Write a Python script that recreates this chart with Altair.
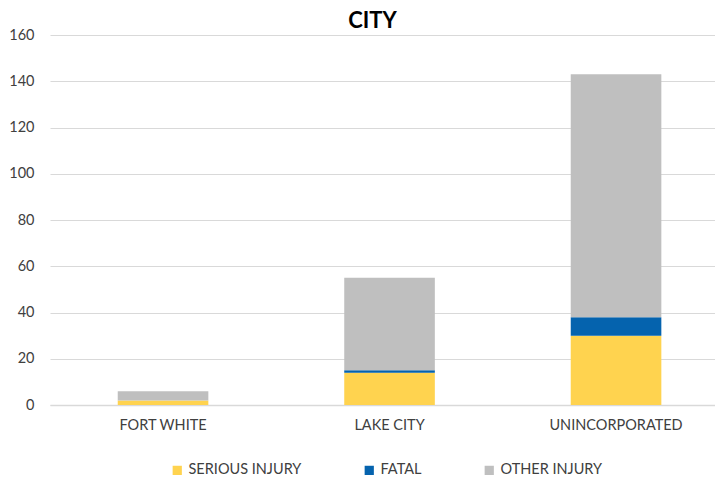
import altair as alt
import pandas as pd

cities = ["FORT WHITE", "LAKE CITY", "UNINCORPORATED"]
serious = [2, 14, 30]
fatal = [0, 1, 8]
other = [4, 40, 105]
series = ["SERIOUS INJURY", "FATAL", "OTHER INJURY"]
colors = ["#FFD34F", "#0563AE", "#BFBFBF"]

rows = []
for i, c in enumerate(cities):
    for j, (s, vals) in enumerate(zip(series, [serious, fatal, other])):
        rows.append({"city": c, "type": s, "value": vals[i], "order": j})
df = pd.DataFrame(rows)

font = "Lato"

chart = alt.Chart(df).mark_bar().encode(
    x=alt.X("city:N", sort=cities, title=None,
            scale=alt.Scale(paddingInner=0.6, paddingOuter=0.268, align=0.558),
            axis=alt.Axis(labelAngle=0, labelFont=font, labelFontSize=14.5,
                          labelColor="#404040", ticks=False, domainColor="#D9D9D9",
                          domainWidth=1.5, labelPadding=13)),
    y=alt.Y("value:Q", stack="zero", title=None,
            scale=alt.Scale(domain=[0, 160]),
            axis=alt.Axis(values=[0, 20, 40, 60, 80, 100, 120, 140, 160],
                          labelFont=font, labelFontSize=14.5, labelColor="#404040",
                          ticks=False, domain=False, gridColor="#D9D9D9",
                          gridWidth=1.2, labelPadding=16)),
    color=alt.Color("type:N", sort=series,
                    scale=alt.Scale(domain=series, range=colors),
                    legend=alt.Legend(title=None, orient="none", direction="horizontal",
                                      legendX=120, legendY=428,
                                      symbolType="square", symbolSize=85,
                                      labelFont=font, labelFontSize=14.5,
                                      labelColor="#404040", columnPadding=60)),
    order=alt.Order("order:Q"),
).properties(
    width=665, height=370,
    title=alt.TitleParams("CITY", font=font, fontSize=22, fontWeight="bold",
                          color="#000000", anchor="middle", offset=-6, dx=-10),
    autosize=alt.AutoSizeParams(type="none"),
    padding={"left": 42, "top": 27, "right": 0, "bottom": 73},
).configure_view(stroke=None)

chart.save("out.html", embed_options={"renderer": "svg", "actions": False})
